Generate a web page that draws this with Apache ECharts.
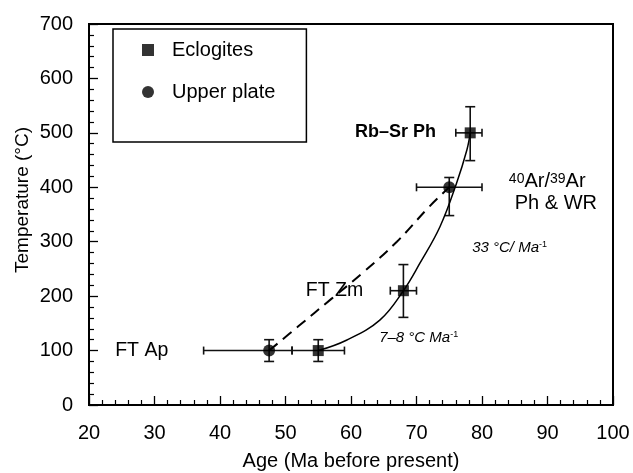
<!DOCTYPE html>
<html>
<head>
<meta charset="utf-8">
<script src="https://cdn.jsdelivr.net/npm/echarts@6/dist/echarts.min.js"></script>
<style>
  html, body { margin: 0; padding: 0; background: #fff; }
  #chart { width: 633px; height: 473px; }
</style>
</head>
<body>
<div id="chart"></div>
<script>
// eclogites (squares)
const ecloX = [55, 68, 78.2]
const ecloY = [100, 210, 500]
const ecloXLow = [51, 66, 76]
const ecloXHigh = [59, 70, 80]
const ecloYLow = [80, 161, 449]
const ecloYHigh = [120, 258, 548]

// upper plate (circles)
const upperX = [47.5, 75]
const upperY = [100, 400]
const upperXLow = [37.5, 70]
const upperXHigh = [51, 80]
const upperYLow = [80, 348]
const upperYHigh = [120, 418]

// cooling paths
const solidPath = [[55, 100], [59.3, 119], [64.4, 156], [68, 210], [70.5, 260], [73.6, 328], [76.1, 407], [77.7, 469], [78.2, 500]]
const dashedPath = [[47.5, 100], [52, 145], [57, 195], [62, 245], [67, 300], [72, 365], [75, 400]]

// annotations: [x, y] where the text starts
const noteText = [
  'FT Ap',
  'FT Zm',
  'Rb–Sr Ph',
  '{sup|40}Ar/{sup|39}Ar',
  'Ph & WR',
  '33 °C/ Ma{sup2|-1}',
  '7–8 °C Ma{sup2|-1}',
]
const notePos = [[24, 100], [53.1, 211], [60.6, 502], [84.1, 410], [85, 371], [78.5, 289], [64.3, 123]]

const FONT = 'Liberation Sans'
const chart = echarts.init(document.getElementById('chart'))

const noteStyle = [
  { fontSize: 19.5 },
  { fontSize: 19.5 },
  { fontSize: 18, fontWeight: 'bold' },
  { fontSize: 20 },
  { fontSize: 20 },
  { fontSize: 15, fontStyle: 'italic' },
  { fontSize: 15, fontStyle: 'italic' },
]

function errorBars(xs, ys, xl, xh, yl, yh) {
  return xs.map((x, i) => [x, ys[i], xl[i], xh[i], yl[i], yh[i]])
}

function renderErr(params, api) {
  const c = api.coord([api.value(0), api.value(1)])
  const l = api.coord([api.value(2), api.value(1)])
  const r = api.coord([api.value(3), api.value(1)])
  const b = api.coord([api.value(0), api.value(4)])
  const t = api.coord([api.value(0), api.value(5)])
  const st = { stroke: '#111', lineWidth: 1.6 }
  const cw = 5
  const ch = 4
  return {
    type: 'group',
    children: [
      { type: 'line', shape: { x1: l[0], y1: c[1], x2: r[0], y2: c[1] }, style: st },
      { type: 'line', shape: { x1: l[0], y1: c[1] - ch, x2: l[0], y2: c[1] + ch }, style: st },
      { type: 'line', shape: { x1: r[0], y1: c[1] - ch, x2: r[0], y2: c[1] + ch }, style: st },
      { type: 'line', shape: { x1: c[0], y1: b[1], x2: c[0], y2: t[1] }, style: st },
      { type: 'line', shape: { x1: c[0] - cw, y1: b[1], x2: c[0] + cw, y2: b[1] }, style: st },
      { type: 'line', shape: { x1: c[0] - cw, y1: t[1], x2: c[0] + cw, y2: t[1] }, style: st },
    ],
  }
}

function renderNote(params, api) {
  const i = params.dataIndex
  const p = api.coord([api.value(0), api.value(1)])
  return {
    type: 'text',
    x: p[0],
    y: p[1],
    style: Object.assign({
      text: noteText[i],
      fill: '#000',
      fontFamily: FONT,
      align: 'left',
      verticalAlign: 'middle',
      rich: {
        sup: { fontSize: 14, fontFamily: FONT, verticalAlign: 'top', lineHeight: 14, padding: [0, 0, 9, 0] },
        sup2: { fontSize: 9, fontFamily: FONT, fontStyle: 'normal', verticalAlign: 'top', padding: [0, 0, 7, 0] },
      },
    }, noteStyle[i]),
  }
}

let option = {
  animation: false,
  backgroundColor: '#fff',
  textStyle: { fontFamily: FONT, color: '#000' },
  grid: {
    left: 89,
    right: 20,
    top: 24,
    bottom: 68,
    outerBoundsMode: 'none',
    show: true,
    borderColor: '#000',
    borderWidth: 2,
  },
  legend: {
    data: ['Eclogites', 'Upper plate'],
    orient: 'vertical',
    left: 113,
    top: 29,
    itemWidth: 12,
    itemHeight: 12,
    itemGap: 22,
    padding: [11, 31, 40, 29],
    borderColor: '#000',
    borderWidth: 1.5,
    borderRadius: 0,
    textStyle: { fontFamily: FONT, fontSize: 20, color: '#000', lineHeight: 20, padding: [0, 0, 0, 13] },
    selectedMode: false,
  },
  xAxis: {
    type: 'value',
    min: 20,
    max: 100,
    interval: 10,
    name: 'Age (Ma before present)',
    nameLocation: 'middle',
    nameGap: 46,
    nameTextStyle: { fontFamily: FONT, fontSize: 20, color: '#000' },
    axisLine: { lineStyle: { color: '#000', width: 2 } },
    axisTick: { inside: true, length: 9, lineStyle: { color: '#000', width: 1.3 } },
    minorTick: { show: true, splitNumber: 5, length: 5, lineStyle: { color: '#000', width: 1.2 } },
    splitLine: { show: false },
    axisLabel: { fontFamily: FONT, fontSize: 20, color: '#000', margin: 18 },
  },
  yAxis: {
    type: 'value',
    min: 0,
    max: 700,
    interval: 100,
    axisLine: { show: true, lineStyle: { color: '#000', width: 2 } },
    axisTick: { show: true, inside: true, length: 9, lineStyle: { color: '#000', width: 1.3 } },
    minorTick: { show: true, splitNumber: 5, length: 5, lineStyle: { color: '#000', width: 1.2 } },
    splitLine: { show: false },
    axisLabel: { fontFamily: FONT, fontSize: 20, color: '#000', margin: 16 },
  },
  graphic: [
    {
      type: 'text',
      x: 23,
      y: 200,
      rotation: Math.PI / 2,
      style: {
        text: 'Temperature (°C)',
        fontFamily: FONT,
        fontSize: 19,
        fill: '#000',
        align: 'center',
        verticalAlign: 'middle',
      },
    },
  ],
  series: [
    {
      type: 'line',
      data: solidPath,
      smooth: 0.4,
      showSymbol: false,
      lineStyle: { color: '#000', width: 1.5 },
      silent: true,
    },
    {
      type: 'line',
      data: dashedPath,
      smooth: 0.4,
      showSymbol: false,
      lineStyle: { color: '#000', width: 2, type: [11, 7] },
      silent: true,
    },
    {
      type: 'custom',
      renderItem: renderErr,
      data: errorBars(ecloX, ecloY, ecloXLow, ecloXHigh, ecloYLow, ecloYHigh),
      silent: true,
    },
    {
      type: 'custom',
      renderItem: renderErr,
      data: errorBars(upperX, upperY, upperXLow, upperXHigh, upperYLow, upperYHigh),
      silent: true,
    },
    {
      name: 'Eclogites',
      type: 'scatter',
      symbol: 'rect',
      symbolSize: 11,
      itemStyle: { color: '#000' },
      data: ecloX.map((x, i) => [x, ecloY[i]]),
    },
    {
      name: 'Upper plate',
      type: 'scatter',
      symbol: 'circle',
      symbolSize: 12,
      itemStyle: { color: '#000' },
      data: upperX.map((x, i) => [x, upperY[i]]),
    },
    {
      type: 'custom',
      renderItem: renderNote,
      data: notePos,
      silent: true,
    },
  ],
}
chart.setOption(option)
</script>
</body>
</html>
